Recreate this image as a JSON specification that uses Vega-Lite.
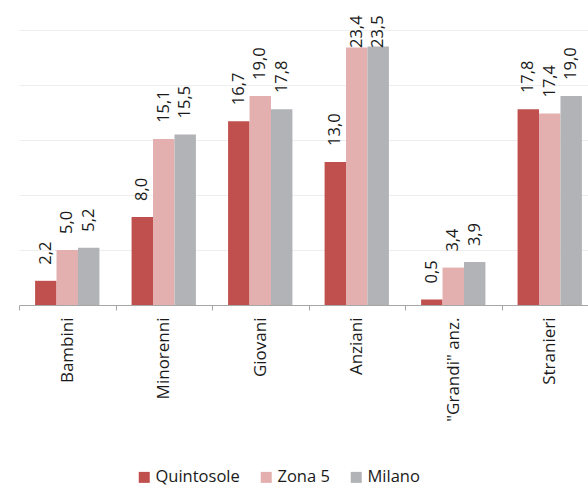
{
  "$schema": "https://vega.github.io/schema/vega-lite/v6.json",
  "width": 569,
  "height": 275,
  "autosize": {"type": "none"},
  "padding": {"left": 19, "top": 30, "right": 0, "bottom": 181},
  "background": "white",
  "config": {
    "font": "Open Sans",
    "view": {"stroke": null},
    "locale": {"number": {"decimal": ",", "thousands": ".", "grouping": [3], "currency": ["€", ""]}}
  },
  "data": {
    "values": [
      {"categoria": "Bambini", "area": "Quintosole", "valore": 2.2},
      {"categoria": "Bambini", "area": "Zona 5", "valore": 5.0},
      {"categoria": "Bambini", "area": "Milano", "valore": 5.2},
      {"categoria": "Minorenni", "area": "Quintosole", "valore": 8.0},
      {"categoria": "Minorenni", "area": "Zona 5", "valore": 15.1},
      {"categoria": "Minorenni", "area": "Milano", "valore": 15.5},
      {"categoria": "Giovani", "area": "Quintosole", "valore": 16.7},
      {"categoria": "Giovani", "area": "Zona 5", "valore": 19.0},
      {"categoria": "Giovani", "area": "Milano", "valore": 17.8},
      {"categoria": "Anziani", "area": "Quintosole", "valore": 13.0},
      {"categoria": "Anziani", "area": "Zona 5", "valore": 23.4},
      {"categoria": "Anziani", "area": "Milano", "valore": 23.5},
      {"categoria": "\"Grandi\" anz.", "area": "Quintosole", "valore": 0.5},
      {"categoria": "\"Grandi\" anz.", "area": "Zona 5", "valore": 3.4},
      {"categoria": "\"Grandi\" anz.", "area": "Milano", "valore": 3.9},
      {"categoria": "Stranieri", "area": "Quintosole", "valore": 17.8},
      {"categoria": "Stranieri", "area": "Zona 5", "valore": 17.4},
      {"categoria": "Stranieri", "area": "Milano", "valore": 19.0}
    ]
  },
  "encoding": {
    "x": {
      "field": "categoria",
      "type": "nominal",
      "sort": ["Bambini", "Minorenni", "Giovani", "Anziani", "\"Grandi\" anz.", "Stranieri"],
      "scale": {"range": [0, 579], "paddingInner": 0, "paddingOuter": 0},
      "axis": {
        "title": null,
        "tickBand": "extent",
        "labelAngle": -90,
        "labelAlign": "right",
        "labelBaseline": "middle",
        "labelFontSize": 17,
        "labelColor": "#1a1a1a",
        "labelPadding": 7,
        "tickSize": 5,
        "tickColor": "#a6a6a6",
        "domainColor": "#a6a6a6",
        "labelLimit": 0
      }
    },
    "xOffset": {
      "field": "area",
      "type": "nominal",
      "sort": ["Quintosole", "Zona 5", "Milano"],
      "scale": {"paddingInner": 0, "paddingOuter": 0.75}
    }
  },
  "layer": [
    {
      "mark": {"type": "bar"},
      "encoding": {
        "y": {
          "field": "valore",
          "type": "quantitative",
          "scale": {"domain": [0, 25]},
          "axis": {
            "title": null,
            "labels": false,
            "ticks": false,
            "domain": false,
            "values": [0, 5, 10, 15, 20, 25],
            "grid": true,
            "gridColor": "#eeeeee",
            "gridWidth": 1
          }
        },
        "color": {
          "field": "area",
          "type": "nominal",
          "sort": ["Quintosole", "Zona 5", "Milano"],
          "scale": {"domain": ["Quintosole", "Zona 5", "Milano"], "range": ["#c0504d", "#e3afaf", "#b2b3b7"]},
          "legend": {
            "title": null,
            "orient": "none",
            "legendX": 117,
            "legendY": 439,
            "direction": "horizontal",
            "symbolType": "square",
            "symbolSize": 121,
            "symbolStrokeWidth": 0,
            "labelFontSize": 16.5,
            "labelColor": "#1a1a1a",
            "labelOffset": 3,
            "columnPadding": 18
          }
        }
      }
    },
    {
      "mark": {"type": "text", "angle": 270, "align": "left", "baseline": "middle", "fontSize": 16.5, "color": "#1a1a1a"},
      "encoding": {
        "y": {
          "field": "valore",
          "type": "quantitative",
          "scale": {"domain": [0, 21.9], "range": [259, 18], "clamp": true},
          "axis": null
        },
        "text": {"field": "valore", "type": "quantitative", "format": ".1f"}
      }
    }
  ],
  "resolve": {"scale": {"y": "independent"}}
}
